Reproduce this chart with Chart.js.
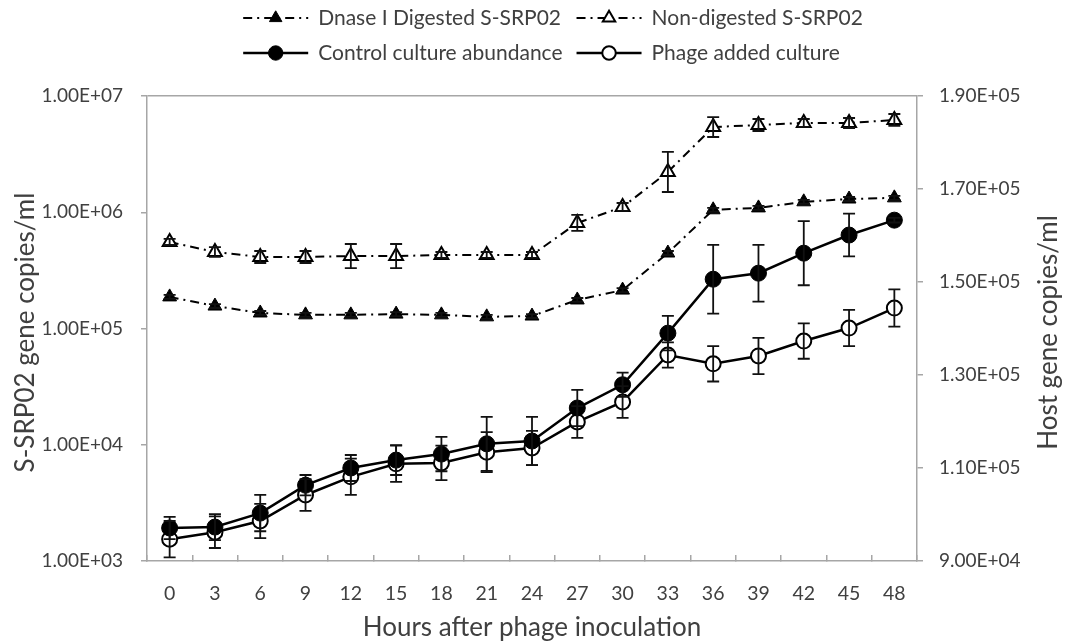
<!DOCTYPE html>
<html><head><meta charset="utf-8">
<script src="https://cdn.jsdelivr.net/npm/chart.js@4/dist/chart.umd.min.js"></script>
<style>html,body{margin:0;padding:0;background:#fff;}#wrap{width:1070px;height:643px;}</style>
</head><body><div id="wrap"><canvas id="c" width="1070" height="643"></canvas></div>
<script>
// ---- data ----
const hours = ['0','3','6','9','12','15','18','21','24','27','30','33','36','39','42','45','48'];
const digested      = [1.87e5,1.56e5,1.36e5,1.31e5,1.31e5,1.33e5,1.31e5,1.26e5,1.28e5,1.76e5,2.14e5,4.46e5,1.05e6,1.09e6,1.23e6,1.30e6,1.33e6];
const digestedErr   = [7.5e3,6.2e3,5.4e3,5.2e3,5.2e3,5.3e3,5.2e3,5.0e3,5.1e3,7.0e3,8.6e3,1.8e4,4.2e4,4.4e4,4.9e4,5.2e4,5.3e4];
const nonDigested   = [5.55e5,4.55e5,4.12e5,4.12e5,4.20e5,4.20e5,4.29e5,4.29e5,4.29e5,8.09e5,1.11e6,2.22e6,5.41e6,5.63e6,5.86e6,5.86e6,6.22e6];
const nonDigestedErr= [3.4e4,4.7e4,5.2e4,5.2e4,1.13e5,1.13e5,2.6e4,2.6e4,2.6e4,1.39e5,9.1e4,1.08e6,1.18e6,7.1e5,4.8e5,6.1e5,7.8e5];
const control       = [9.71e4,9.73e4,1.003e5,1.063e5,1.100e5,1.117e5,1.130e5,1.152e5,1.158e5,1.229e5,1.279e5,1.390e5,1.506e5,1.519e5,1.562e5,1.601e5,1.633e5];
const controlErr    = [2.4e3,2.8e3,3.9e3,2.2e3,2.8e3,3.2e3,3.7e3,5.8e3,5.2e3,3.9e3,2.6e3,3.7e3,7.4e3,6.1e3,6.9e3,4.6e3,0.5e3];
const phage         = [9.47e4,9.62e4,9.86e4,1.042e5,1.081e5,1.109e5,1.111e5,1.134e5,1.143e5,1.199e5,1.242e5,1.343e5,1.324e5,1.341e5,1.373e5,1.401e5,1.444e5];
const phageErr      = [3.9e3,3.4e3,3.7e3,3.4e3,3.9e3,3.9e3,3.7e3,4.3e3,3.7e3,3.4e3,3.4e3,2.7e3,3.8e3,3.9e3,3.8e3,3.9e3,4.0e3];
const leftTicks = [1e3,1e4,1e5,1e6,1e7];
const rightMin = 9e4, rightMax = 1.9e5, rightStep = 2e4;
const seriesNames = ['Dnase I Digested S-SRP02','Non-digested S-SRP02','Control culture abundance','Phage added culture'];

// ---- styles ----
const FONT = 'Lato';
const TXT = '#404040';
const AX = '#a6a6a6';
const DASHDOT = [9,5,2,5];

function sci(v){
  const s = Number(v).toExponential(2);
  const parts = s.split('e');
  const sign = parts[1][0];
  const d = parts[1].slice(1).padStart(2,'0');
  return parts[0] + 'E' + sign + d;
}

const errorBars = {
  id:'errorBars',
  afterDatasetsDraw(chart){
    const ctx = chart.ctx;
    chart.data.datasets.forEach((ds,di)=>{
      if(!ds.err) return;
      const meta = chart.getDatasetMeta(di);
      const sc = chart.scales[ds.yAxisID];
      const isLog = sc.type === 'logarithmic';
      ctx.save();
      ctx.strokeStyle = '#111';
      ctx.lineWidth = 1.8;
      meta.data.forEach((pt,i)=>{
        const v = ds.data[i], e = ds.err[i];
        const hi = v + e;
        const lo = isLog ? v*v/(v+e) : v - e;
        const yh = sc.getPixelForValue(hi), yl = sc.getPixelForValue(lo);
        const x = pt.x, cw = 6;
        ctx.beginPath();
        ctx.moveTo(x, yh); ctx.lineTo(x, yl);
        ctx.moveTo(x-cw, yh); ctx.lineTo(x+cw, yh);
        ctx.moveTo(x-cw, yl); ctx.lineTo(x+cw, yl);
        ctx.stroke();
      });
      ctx.restore();
    });
  }
};

const customText = {
  id:'customText',
  afterDraw(chart){
    const ctx = chart.ctx;
    const ca = chart.chartArea;
    ctx.save();
    // legend (grid, 2 columns)
    ctx.font = '21px ' + FONT;
    const symW = 65, gapT = 10, colGap = 14;
    const dss = chart.data.datasets;
    const w0 = Math.max(ctx.measureText(dss[0].label).width, ctx.measureText(dss[2].label).width);
    const w1 = Math.max(ctx.measureText(dss[1].label).width, ctx.measureText(dss[3].label).width);
    const total = symW + gapT + w0 + colGap + symW + gapT + w1;
    const x0 = 553 - total/2;
    const cols = [x0, x0 + symW + gapT + w0 + colGap];
    const rows = [18, 53];
    dss.forEach((ds,i)=>{
      const cx = cols[i%2], cy = rows[Math.floor(i/2)];
      ctx.save();
      ctx.strokeStyle = ds.borderColor; ctx.lineWidth = ds.borderWidth;
      ctx.setLineDash(ds.borderDash || []);
      ctx.beginPath(); ctx.moveTo(cx, cy); ctx.lineTo(cx+symW, cy); ctx.stroke();
      ctx.setLineDash([]);
      ctx.fillStyle = ds.pointBackgroundColor; ctx.strokeStyle = ds.pointBorderColor; ctx.lineWidth = ds.pointBorderWidth;
      ctx.beginPath();
      const r = ds.pointRadius*0.9, px = cx+symW/2;
      if(ds.pointStyle === 'triangle'){
        ctx.moveTo(px, cy - r); ctx.lineTo(px + r*0.866, cy + r*0.5); ctx.lineTo(px - r*0.866, cy + r*0.5); ctx.closePath();
      } else { ctx.arc(px, cy, r, 0, Math.PI*2); }
      ctx.fill(); ctx.stroke();
      ctx.restore();
      ctx.fillStyle = TXT; ctx.textBaseline = 'middle'; ctx.textAlign = 'left';
      ctx.fillText(ds.label, cx + symW + gapT, cy);
    });
    // y titles (both read bottom-to-top)
    ctx.font = '26px ' + FONT;
    ctx.fillStyle = TXT; ctx.textAlign = 'center'; ctx.textBaseline = 'middle';
    const my = (ca.top + ca.bottom)/2 + 4;
    ctx.save(); ctx.translate(26, my); ctx.rotate(-Math.PI/2); ctx.fillText('S-SRP02 gene copies/ml', 0, 0); ctx.restore();
    ctx.save(); ctx.translate(1049, my); ctx.rotate(-Math.PI/2); ctx.fillText('Host gene copies/ml', 0, 0); ctx.restore();
    ctx.restore();
  }
};

new Chart(document.getElementById('c'), {
  type:'line',
  data:{
    labels: hours,
    datasets:[
      {label:seriesNames[0], data:digested, err:digestedErr, yAxisID:'yL', borderColor:'#000', borderWidth:2, borderDash:DASHDOT,
       pointStyle:'triangle', pointRadius:8, pointBackgroundColor:'#000', pointBorderColor:'#000', pointBorderWidth:1},
      {label:seriesNames[1], data:nonDigested, err:nonDigestedErr, yAxisID:'yL', borderColor:'#000', borderWidth:2, borderDash:DASHDOT,
       pointStyle:'triangle', pointRadius:8, pointBackgroundColor:'#fff', pointBorderColor:'#000', pointBorderWidth:2},
      {label:seriesNames[2], data:control, err:controlErr, yAxisID:'yR', borderColor:'#000', borderWidth:2.5,
       pointStyle:'circle', pointRadius:8, pointBackgroundColor:'#000', pointBorderColor:'#000', pointBorderWidth:1},
      {label:seriesNames[3], data:phage, err:phageErr, yAxisID:'yR', borderColor:'#000', borderWidth:2.5,
       pointStyle:'circle', pointRadius:7.5, pointBackgroundColor:'#fff', pointBorderColor:'#000', pointBorderWidth:2}
    ]
  },
  options:{
    responsive:false, animation:false, devicePixelRatio:1,
    layout:{padding:{top:96,left:0,right:0,bottom:0}},
    plugins:{legend:{display:false}, tooltip:{enabled:false}},
    scales:{
      x:{type:'category', offset:true,
        grid:{offset:true, drawOnChartArea:false, tickLength:-6, color:AX, lineWidth:1.5},
        border:{color:AX, width:1.5},
        ticks:{font:{family:FONT,size:19.5}, color:TXT, padding:27, maxRotation:0, autoSkip:false},
        title:{display:true, text:'Hours after phage inoculation', font:{family:FONT,size:26}, color:TXT, padding:{top:0,bottom:0}},
        afterFit(s){ s.height = 82; }
      },
      yL:{type:'logarithmic', position:'left', min:1e3, max:1e7,
        afterBuildTicks(s){ s.ticks = leftTicks.map(v=>({value:v})); },
        ticks:{font:{family:FONT,size:19}, color:TXT, padding:18, callback:(v)=>sci(v)},
        grid:{color:(c)=> (c.tick && c.tick.value===1e7) ? AX : 'rgba(0,0,0,0)', tickColor:AX, tickLength:6, lineWidth:1.5},
        border:{color:AX, width:1.5},
        afterFit(s){ s.width = 147; }
      },
      yR:{type:'linear', position:'right', min:rightMin, max:rightMax,
        ticks:{stepSize:rightStep, font:{family:FONT,size:19}, color:TXT, padding:16, callback:(v)=>sci(v)},
        grid:{drawOnChartArea:false, color:AX, tickLength:6, lineWidth:1.5},
        border:{color:AX, width:1.5},
        afterFit(s){ s.width = 153; }
      }
    }
  },
  plugins:[errorBars, customText]
});
</script></body></html>
